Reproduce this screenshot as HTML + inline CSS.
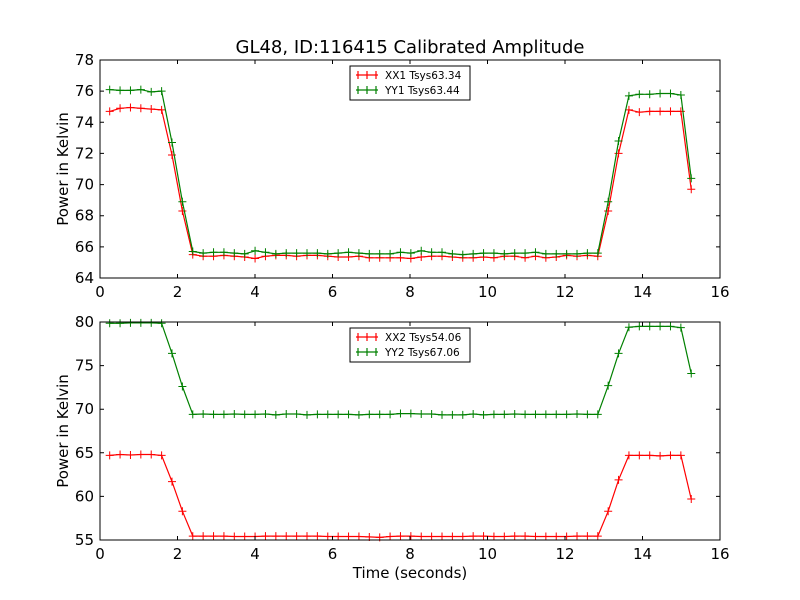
<!DOCTYPE html>
<html><head><meta charset="utf-8"><style>
html,body{margin:0;padding:0;background:#fff;}
svg{display:block;font-family:"DejaVu Sans","Liberation Sans",sans-serif;}
</style></head><body>
<svg id="chart" width="800" height="600" viewBox="0 0 800 600" xmlns="http://www.w3.org/2000/svg">
<rect width="800" height="600" fill="#fff"/>
<text x="410" y="53" text-anchor="middle" font-size="18">GL48, ID:116415 Calibrated Amplitude</text>
<g id="top"></g><g id="bot"></g>
<text x="410" y="578" text-anchor="middle" font-size="15">Time (seconds)</text>
</svg>
<script>
const T0 = 0.25, DT = 0.268;
const xx1 = [74.7,74.9,74.95,74.9,74.85,74.8,71.9,68.3,65.5,
 65.4,65.4,65.45,65.4,65.35,65.25,65.4,65.45,65.45,65.4,
 65.45,65.45,65.4,65.35,65.35,65.4,65.3,65.3,65.3,65.3,
 65.25,65.35,65.4,65.4,65.35,65.3,65.3,65.35,65.3,65.4,
 65.4,65.3,65.4,65.3,65.35,65.45,65.4,65.45,65.4,
 68.3,72.0,74.8,74.65,74.7,74.7,74.7,74.7,69.7];
const yy1 = [76.1,76.05,76.05,76.1,75.95,76.0,72.7,68.9,65.7,
 65.6,65.65,65.65,65.6,65.55,65.75,65.65,65.55,65.6,65.6,
 65.6,65.6,65.55,65.6,65.65,65.6,65.55,65.55,65.55,65.65,
 65.6,65.75,65.65,65.65,65.55,65.5,65.55,65.6,65.6,65.55,
 65.6,65.6,65.65,65.55,65.55,65.55,65.55,65.6,65.6,
 68.9,72.8,75.7,75.8,75.8,75.85,75.85,75.75,70.4];
const xx2 = [64.7,64.8,64.75,64.8,64.8,64.7,61.7,58.3,55.45,
 55.45,55.45,55.45,55.4,55.4,55.4,55.45,55.45,55.45,55.45,
 55.45,55.45,55.4,55.4,55.4,55.4,55.35,55.3,55.4,55.45,
 55.45,55.4,55.4,55.4,55.4,55.4,55.45,55.45,55.4,55.4,
 55.45,55.45,55.4,55.4,55.4,55.4,55.45,55.45,55.45,
 58.3,61.9,64.7,64.7,64.7,64.65,64.7,64.7,59.7];
const yy2 = [79.85,79.85,79.9,79.9,79.9,79.85,76.4,72.6,69.4,
 69.45,69.4,69.4,69.45,69.4,69.4,69.45,69.35,69.45,69.45,
 69.35,69.4,69.4,69.4,69.4,69.35,69.4,69.4,69.4,69.5,
 69.5,69.45,69.45,69.35,69.35,69.35,69.45,69.35,69.4,69.4,
 69.45,69.4,69.4,69.4,69.4,69.4,69.45,69.4,69.4,
 72.7,76.4,79.4,79.5,79.5,79.5,79.5,79.35,74.1];
const xTicks = [0,2,4,6,8,10,12,14,16];
const yTicksTop = [64,66,68,70,72,74,76,78];
const yTicksBot = [55,60,65,70,75,80];
const legendTop = ["XX1 Tsys63.34","YY1 Tsys63.44"];
const legendBot = ["XX2 Tsys54.06","YY2 Tsys67.06"];
const NS = "http://www.w3.org/2000/svg";
function mk(parent, tag, attrs){const e=document.createElementNS(NS,tag);for(const k in attrs)e.setAttribute(k,attrs[k]);parent.appendChild(e);return e;}
function panel(gid, top, bottom, ymin, ymax, yTicks, sX, sY, leg, pname){
  const g=document.getElementById(gid);
  const L=100,R=720;
  const xs=v=>L+(v-0)/(16-0)*(R-L);
  const ys=v=>bottom-(v-ymin)/(ymax-ymin)*(bottom-top);
  const series=[[sX,"#ff0000",leg[0]],[sY,"#008000",leg[1]]];
  series.forEach(([arr,col,name],si)=>{
    const pts=arr.map((v,i)=>xs(T0+i*DT).toFixed(1)+","+ys(v).toFixed(1)).join(" ");
    const pl=mk(g,"polyline",{points:pts,fill:"none",stroke:col,"stroke-width":1.2});
    
    
    arr.forEach((v,i)=>{
      const x=xs(T0+i*DT),y=ys(v);
      const p=mk(g,"path",{d:`M${x-4},${y}H${x+4}M${x},${y-4}V${y+4}`,stroke:col,"stroke-width":1});
      
      
    });
  });
  const frame=mk(g,"rect",{x:L,y:top,width:R-L,height:bottom-top,fill:"none",stroke:"#000","stroke-width":1});
  
  
  xTicks.forEach(t=>{
    const x=xs(t);
    mk(g,"path",{d:`M${x},${bottom}v-4M${x},${top}v4`,stroke:"#000","stroke-width":1});
    const tx=mk(g,"text",{x:x,y:bottom+19,"text-anchor":"middle","font-size":15});
    tx.textContent=t;
    
    
  });
  yTicks.forEach(t=>{
    const y=ys(t);
    mk(g,"path",{d:`M${L},${y}h4M${R},${y}h-4`,stroke:"#000","stroke-width":1});
    const tx=mk(g,"text",{x:L-6,y:y+5,"text-anchor":"end","font-size":15});
    tx.textContent=t;
    
    
  });
  const yl=mk(g,"text",{x:0,y:0,transform:`translate(68,${(top+bottom)/2}) rotate(-90)`,"text-anchor":"middle","font-size":15});
  yl.textContent="Power in Kelvin";
  
  
  const lg=mk(g,"g",{});
  
  
  const ly=top+6;
  mk(lg,"rect",{x:350,y:ly,width:120,height:34,fill:"#fff",stroke:"#000","stroke-width":1});
  series.forEach(([arr,col,name],si)=>{
    const yy=ly+9+si*15;
    const e=mk(lg,"g",{});
    
    
    mk(e,"path",{d:`M356,${yy}h22M367,${yy-4}v8M358,${yy-4}v8M376,${yy-4}v8`,stroke:col,"stroke-width":1.2});
    const t=mk(e,"text",{x:385,y:yy+4,"font-size":10.5});
    t.textContent=name;
  });
}
panel("top",60,278,64,78,yTicksTop,xx1,yy1,legendTop,"top-panel");
panel("bot",322,540,55,80,yTicksBot,xx2,yy2,legendBot,"bottom-panel");
</script>
</body></html>
